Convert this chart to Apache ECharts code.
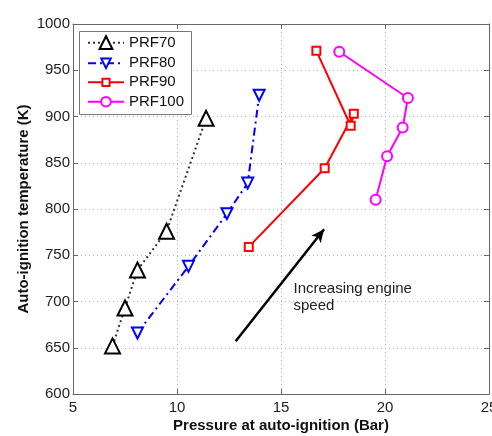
<!DOCTYPE html>
<html>
<head>
<meta charset="utf-8">
<script src="https://cdn.jsdelivr.net/npm/echarts@6/dist/echarts.min.js"></script>
<style>html,body{margin:0;padding:0;background:#fff}#c{width:492px;height:436px}</style>
</head>
<body>
<div id="c"></div>
<script>
// Data (pressure in bar, temperature in K)
const prf70P = [6.9, 7.5, 8.1, 9.5, 11.4];
const prf70T = [652, 693, 734, 776, 898];
const prf80P = [8.1, 10.55, 12.4, 13.4, 13.95];
const prf80T = [666, 738, 795, 828, 923];
const prf90P = [13.45, 17.1, 18.5, 18.35, 16.7];
const prf90T = [759, 844, 903, 890, 971];
const prf100P = [19.55, 20.1, 20.85, 21.1, 17.8];
const prf100T = [810, 857, 888, 920, 970];
const seriesNames = ['PRF70', 'PRF80', 'PRF90', 'PRF100'];
const xTicks = {min: 5, max: 25, step: 5};
const yTicks = {min: 600, max: 1000, step: 50};
const arrowFrom = [12.82, 657];
const arrowTo = [17.07, 778];
const noteAt = [15.6, 704];
const noteText = 'Increasing engine\nspeed';

const zip = (a, b) => a.map((v, i) => [v, b[i]]);
const font = '"Liberation Sans", Arial, Helvetica, sans-serif';
const frame = '#666';

function xAx(pos, main) {
  return {
    type: 'value', position: pos, min: xTicks.min, max: xTicks.max, interval: xTicks.step,
    name: main ? 'Pressure at auto-ignition (Bar)' : '', nameLocation: 'middle', nameGap: 24,
    nameMoveOverlap: false,
    nameTextStyle: {fontFamily: font, fontSize: 15, fontWeight: 'bold', color: '#111'},
    axisLine: {show: true, lineStyle: {color: frame, width: 1}},
    axisTick: {show: true, inside: true, length: 5, lineStyle: {color: frame}},
    axisLabel: {show: main, fontFamily: font, fontSize: 15, color: '#222', margin: 6,
                formatter: v => String(v)},
    splitLine: {show: main, lineStyle: {color: '#b8b8b8', type: [1, 3], width: 1}}
  };
}
function yAx(pos, main) {
  return {
    type: 'value', position: pos, min: yTicks.min, max: yTicks.max, interval: yTicks.step,
    name: main ? 'Auto-ignition temperature (K)' : '', nameLocation: 'middle', nameGap: 42,
    nameMoveOverlap: false,
    nameTextStyle: {fontFamily: font, fontSize: 15, fontWeight: 'bold', color: '#111'},
    axisLine: {show: true, lineStyle: {color: frame, width: 1}},
    axisTick: {show: true, inside: true, length: 5, lineStyle: {color: frame}},
    axisLabel: {show: main, fontFamily: font, fontSize: 15, color: '#222', margin: 3,
                formatter: v => String(v)},
    splitLine: {show: main, lineStyle: {color: '#b8b8b8', type: [1, 3], width: 1}}
  };
}

// one legend component per series so each icon can have its own size
const legendRowCenters = [42.7, 63.3, 82.3, 101.7];
const legendIconH = [16, 12, 9, 12];
const legends = seriesNames.map((n, i) => ({
  data: [n], left: 87, top: legendRowCenters[i] - 8, padding: 0, z: 6,
  itemWidth: 36, itemHeight: legendIconH[i], selectedMode: false,
  textStyle: {fontFamily: font, fontSize: 15, lineHeight: 16, color: '#111'}
}));

const chart = echarts.init(document.getElementById('c'), null, {renderer: 'canvas'});
chart.setOption({
  animation: false,
  backgroundColor: '#fff',
  grid: {left: 73, right: 3, top: 24, bottom: 42, outerBoundsMode: 'none', containLabel: false},
  xAxis: [xAx('bottom', true), xAx('top', false)],
  yAxis: [yAx('left', true), yAx('right', false)],
  graphic: [{
    type: 'rect', left: 79, top: 31, z: 5,
    shape: {width: 112, height: 83},
    style: {fill: '#fff', stroke: '#777', lineWidth: 1}
  }],
  legend: legends,
  series: [
    {name: seriesNames[0], type: 'line', data: zip(prf70P, prf70T),
     symbol: 'emptyTriangle', symbolSize: 15,
     lineStyle: {color: '#333', width: 2, type: [2, 3]},
     itemStyle: {color: '#000', borderColor: '#000', borderWidth: 2.5}},
    {name: seriesNames[1], type: 'line', data: zip(prf80P, prf80T),
     symbol: 'emptyTriangle', symbolRotate: 180, symbolSize: 11,
     lineStyle: {color: '#0000ff', width: 2, type: [8, 4, 2, 4]},
     itemStyle: {color: '#0000ff', borderColor: '#0000ff', borderWidth: 1.5}},
    {name: seriesNames[2], type: 'line', data: zip(prf90P, prf90T),
     symbol: 'emptyRect', symbolSize: 8,
     lineStyle: {color: '#ff0000', width: 2},
     itemStyle: {color: '#ff0000', borderColor: '#ff0000', borderWidth: 1.5}},
    {name: seriesNames[3], type: 'line', data: zip(prf100P, prf100T),
     symbol: 'emptyCircle', symbolSize: 10,
     lineStyle: {color: '#ff00ff', width: 2},
     itemStyle: {color: '#ff00ff', borderColor: '#ff00ff', borderWidth: 1.5}},
    {name: 'annotation', type: 'line', data: [], silent: true,
     markLine: {
       silent: true, symbol: ['none', 'arrow'], symbolSize: [9, 13],
       label: {show: false},
       lineStyle: {color: '#000', width: 2.5, type: 'solid'},
       data: [[{coord: arrowFrom}, {coord: arrowTo}]]
     },
     markPoint: {
       silent: true, symbol: 'circle', symbolSize: 0,
       label: {show: true, position: 'inside', align: 'left', verticalAlign: 'middle',
               formatter: noteText, fontFamily: font, fontSize: 15, lineHeight: 17, color: '#222'},
       data: [{coord: noteAt}]
     }}
  ]
});
</script>
</body>
</html>
